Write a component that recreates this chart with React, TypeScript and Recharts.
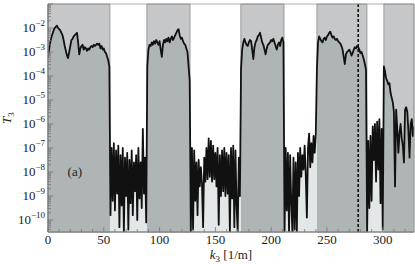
import React from "react";
import {
    AreaChart,
    Area,
    XAxis,
    YAxis,
    ReferenceArea,
    ReferenceLine,
    ReferenceDot,
} from "recharts";

// log10(T3), one value per 1/m of k3, in runs
const bandA = [
    -3.2, -2.9, -2.6, -2.4, -2.25, -2.1, -2.0, -1.95, -1.9, -2.0,
    -2.05, -2.1, -2.2, -2.3, -2.5, -2.75, -2.95, -3.15, -3.25, -3.0,
    -2.75, -2.5, -2.45, -2.35, -2.3, -2.25, -2.2, -2.6, -3.1, -2.85,
    -2.75, -2.7, -2.9, -2.8, -2.85, -2.95, -2.85, -2.9, -2.8, -2.75,
    -2.8, -2.7, -2.75, -2.7, -2.65, -2.7, -2.65, -2.85, -2.75, -2.9,
    -2.85, -3.0, -3.05, -3.2, -3.35, -3.6,
];
const gap1 = [
    -9.8, -7.0, -9.2, -6.8, -9.6, -7.1, -8.9, -6.9, -10.3, -7.3,
    -9.4, -7.0, -10.5, -7.4, -9.0, -7.2, -10.4, -7.5, -9.3, -7.1,
    -9.8, -7.6, -8.8, -7.3, -10.0, -7.0, -9.1, -7.6, -9.5, -6.2,
    -8.9, -7.4, -10.1,
];
const bandB = [
    -3.6, -2.9, -2.7, -2.75, -2.6, -2.7, -2.55, -2.65, -2.5, -2.6,
    -2.7, -2.55, -2.9, -3.2, -2.7, -2.5, -2.6, -2.45, -2.55, -2.4,
    -2.6, -2.45, -2.35, -2.5, -2.4, -2.3, -2.2, -2.1, -2.05, -2.3,
    -2.45, -2.4, -2.55, -2.65, -2.7, -2.85, -3.0, -3.6, -4.2,
];
const gap2 = [
    -10.5, -7.0, -10.4, -7.1, -9.2, -7.6, -9.8, -7.5, -8.6, -7.8,
    -8.5, -10.3, -7.4, -8.4, -7.0, -8.3, -6.6, -8.2, -6.7, -8.4,
    -6.9, -8.3, -7.2, -8.6, -7.0, -10.2, -7.3, -9.0, -7.1, -8.8,
    -7.0, -9.0, -7.2, -8.9, -7.3, -10.5, -7.0, -9.1, -6.9, -10.3,
    -7.1, -9.4, -10.5, -7.4, -9.0,
];
const bandC = [
    -3.7, -2.9, -2.6, -2.45, -2.6, -2.7, -2.75, -2.6, -2.5, -2.55,
    -2.9, -3.3, -2.8, -2.6, -2.5, -2.35, -2.3, -2.2, -2.4, -2.6,
    -2.7, -2.9, -3.1, -2.85, -2.7, -2.65, -2.6, -2.5, -2.55, -2.45,
    -2.6, -2.75, -2.9, -2.7, -2.6, -2.75, -2.5, -2.4, -2.6,
];
const gap3 = [
    -10.5, -7.0, -9.6, -7.2, -10.5, -7.3, -9.3, -10.5, -7.4, -10.4,
    -7.6, -10.5, -7.2, -9.0, -7.0, -8.2, -7.3, -7.9, -6.9, -8.1,
    -9.9, -7.0, -6.4, -7.8, -6.8, -7.6, -6.5, -7.2, -6.4,
];
const bandD = [
    -3.7, -2.6, -2.35, -2.45, -2.55, -2.6, -2.45, -2.4, -2.5, -2.35,
    -2.3, -2.2, -2.15, -2.3, -2.4, -2.35, -2.45, -2.5, -2.45, -2.55,
    -2.6, -2.65, -2.75, -2.9, -3.2, -3.5, -3.1, -3.0, -2.95, -2.9,
    -3.0, -3.15, -3.05, -2.9, -2.8, -2.85, -2.75, -2.8, -2.9, -3.05,
    -3.0, -3.15, -3.3, -3.5, -3.75,
];
const gap4 = [
    -10.5, -6.7, -9.5, -6.5, -9.2, -6.1, -7.5, -6.0, -8.4, -5.9,
    -7.9, -5.8, -9.3, -6.2, -10.4,
];
const bandE = [
    -3.6, -3.8, -4.1, -4.2, -4.35, -4.3, -4.7, -4.9, -5.1, -5.5,
    -8.6, -5.4, -6.2, -7.2, -6.4, -6.0, -6.6, -6.9, -7.6, -5.4,
    -5.3, -5.5, -6.3, -7.4, -6.0, -5.8, -6.5, -6.1,
];

// shaded k3 ranges and the marked k3
const bandStart = [0, 88.6, 172.8, 241, 301];
const bandEnd = [55.5, 127.3, 211.5, 285.8, 328];
const markedK3 = 278;

const xTicks = [0, 10, 20, 30, 40, 50, 60, 70, 80, 90, 100, 110, 120, 130, 140, 150, 160, 170, 180, 190, 200, 210, 220, 230, 240, 250, 260, 270, 280, 290, 300, 310, 320];
const yDecades = [-11, -10, -9, -8, -7, -6, -5, -4, -3, -2, -1];

const xMax = 328;
const yMin = Math.pow(10, -10.5);
const yMax = 0.1;

const logT3 = [...bandA, ...gap1, ...bandB, ...gap2, ...bandC, ...gap3, ...bandD, ...gap4, ...bandE];
const data = logT3.map((v, i) => ({ k3: i, t3: Math.pow(10, v) }));

const yTicks: number[] = [];
yDecades.forEach((e) => {
    for (let m = 1; m < 10; m++) {
        const v = m * Math.pow(10, e);
        if (v >= yMin && v <= yMax) yTicks.push(v);
    }
});

const FONT = "'Liberation Serif', 'Times New Roman', serif";
const LIGHT = "#e4e7e7";
const DARK = "#afb4b4";

function YTick(props: any) {
    const { x, y, payload } = props;
    const lg = Math.log10(payload.value);
    const e = Math.round(lg);
    const major = Math.abs(lg - e) < 1e-6;
    return (
        <g>
            <line x1={x} x2={x + (major ? 5 : 3)} y1={y} y2={y} stroke="#777" strokeWidth={0.8} />
            {major && e <= -2 && e >= -10 && (
                <text x={x - 3} y={y + 4} textAnchor="end" fontFamily={FONT} fontSize={13} fill="#222">
                    10
                    <tspan dy={-6} fontSize={9}>
                        {"\u2212" + Math.abs(e)}
                    </tspan>
                </text>
            )}
        </g>
    );
}

function XTick(props: any) {
    const { x, y, payload } = props;
    const major = payload.value % 50 === 0;
    return (
        <g>
            <line x1={x} x2={x} y1={y} y2={y - (major ? 5 : 3)} stroke="#777" strokeWidth={0.8} />
            {major && (
                <text x={x} y={y + 12} textAnchor="middle" fontFamily={FONT} fontSize={13} fill="#222">
                    {payload.value}
                </text>
            )}
        </g>
    );
}

function XLabel(props: any) {
    const { viewBox } = props;
    const cx = viewBox.x + viewBox.width / 2;
    return (
        <text x={cx} y={viewBox.y + 27} textAnchor="middle" fontFamily={FONT} fontSize={13} fill="#222">
            <tspan fontStyle="italic">k</tspan>
            <tspan fontSize={9} dy={3}>3</tspan>
            <tspan dy={-3}> [1/m]</tspan>
        </text>
    );
}

function YLabel(props: any) {
    const { viewBox } = props;
    const tx = viewBox.x + 3;
    const ty = viewBox.y + viewBox.height / 2;
    return (
        <text x={tx} y={ty} transform={`rotate(-90, ${tx}, ${ty})`} textAnchor="middle" fontFamily={FONT} fontSize={13} fill="#222">
            <tspan fontStyle="italic">T</tspan>
            <tspan fontSize={9} dy={3}>3</tspan>
        </text>
    );
}

function PanelTag(props: any) {
    const { viewBox } = props;
    return (
        <text x={viewBox.x + viewBox.width / 2} y={viewBox.y + viewBox.height / 2 + 4} textAnchor="middle" fontFamily={FONT} fontSize={13} fill="#222">
            (a)
        </text>
    );
}

export default function App() {
    const stops: { o: number; c: string }[] = [];
    bandStart.forEach((s, i) => {
        stops.push({ o: s / xMax, c: LIGHT });
        stops.push({ o: s / xMax, c: DARK });
        stops.push({ o: bandEnd[i] / xMax, c: DARK });
        stops.push({ o: bandEnd[i] / xMax, c: LIGHT });
    });

    return (
        <div style={{ position: "absolute", left: 0, top: 0 }}>
            <AreaChart width={415} height={264} data={data} margin={{ top: 4, right: 1, bottom: 0, left: 8 }}>
                <defs>
                    <linearGradient id="underCurve" x1="0" y1="0" x2="1" y2="0">
                        {stops.map((s, i) => (
                            <stop key={i} offset={s.o} stopColor={s.c} />
                        ))}
                    </linearGradient>
                </defs>

                {bandStart.map((s, i) => (
                    <ReferenceArea
                        key={i}
                        x1={s}
                        x2={bandEnd[i]}
                        fill="#c6c7c9"
                        fillOpacity={1}
                        stroke="#8c8c8c"
                        strokeWidth={0.8}
                        zIndex={50}
                    />
                ))}

                <XAxis
                    dataKey="k3"
                    type="number"
                    domain={[0, xMax]}
                    allowDataOverflow
                    ticks={xTicks}
                    interval={0}
                    tickSize={0}
                    tickMargin={0}
                    tickLine={false}
                    tick={<XTick />}
                    axisLine={{ stroke: "#777" }}
                    height={32}
                    label={<XLabel />}
                />
                <YAxis
                    type="number"
                    scale="log"
                    domain={[yMin, yMax]}
                    allowDataOverflow
                    ticks={yTicks}
                    interval={0}
                    tickSize={0}
                    tickMargin={0}
                    tickLine={false}
                    tick={<YTick />}
                    axisLine={{ stroke: "#777" }}
                    width={40}
                    label={<YLabel />}
                />

                <Area
                    type="linear"
                    dataKey="t3"
                    baseValue="dataMin"
                    stroke="#111"
                    strokeWidth={1.8}
                    strokeLinejoin="round"
                    fill="url(#underCurve)"
                    fillOpacity={1}
                    dot={false}
                    activeDot={false}
                    isAnimationActive={false}
                    zIndex={100}
                />

                <ReferenceLine x={markedK3} stroke="#111" strokeWidth={1.6} strokeDasharray="3 2" zIndex={150} />
                <ReferenceArea x1={0} x2={xMax} y1={yMin} y2={yMax} fill="none" stroke="#999" strokeWidth={0.8} zIndex={150} />
                <ReferenceDot x={24} y={1e-8} r={1} fill="none" stroke="none" label={<PanelTag />} zIndex={150} />
            </AreaChart>
        </div>
    );
}
